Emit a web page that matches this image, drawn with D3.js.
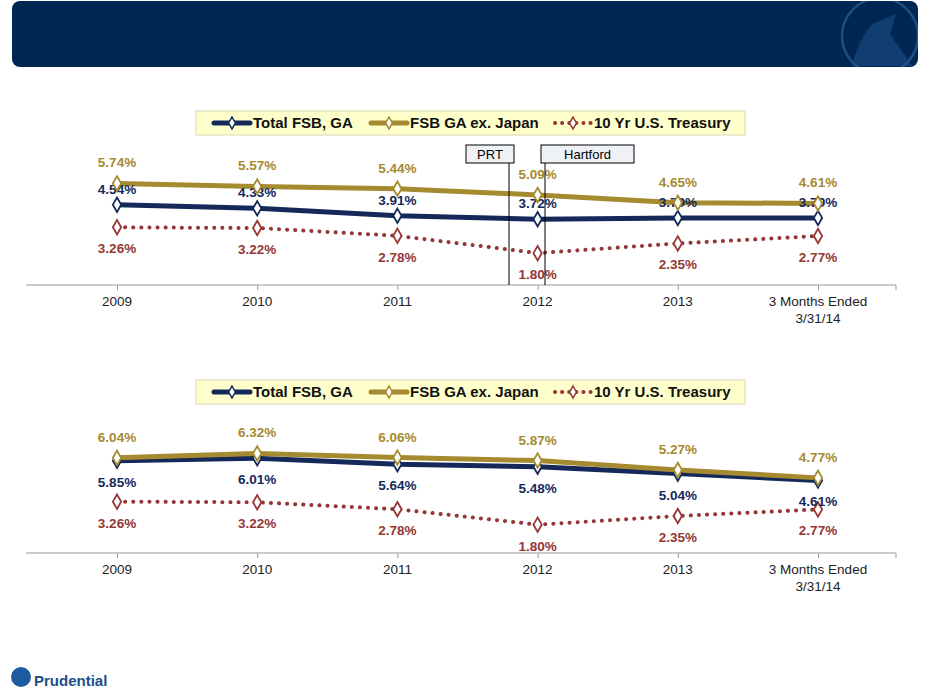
<!DOCTYPE html>
<html><head><meta charset="utf-8">
<script src="https://cdn.jsdelivr.net/npm/d3@7"></script>
<style>body{margin:0;background:#fff}svg text{font-family:"Liberation Sans",Arial,sans-serif}</style>
</head><body>
<svg id="c" width="931" height="693"></svg>
<script>
var categories = ["2009","2010","2011","2012","2013","3 Months Ended|3/31/14"];
var topTotal = [4.54,4.33,3.91,3.72,3.79,3.79];
var topExJapan = [5.74,5.57,5.44,5.09,4.65,4.61];
var topTreasury = [3.26,3.22,2.78,1.80,2.35,2.77];
var botTotal = [5.85,6.01,5.64,5.48,5.04,4.61];
var botExJapan = [6.04,6.32,6.06,5.87,5.27,4.77];
var botTreasury = [3.26,3.22,2.78,1.80,2.35,2.77];
var seriesNames = ["Total FSB, GA","FSB GA ex. Japan","10 Yr U.S. Treasury"];

var NAVY="#14295a", GOLD="#a58a30", RED="#953735";
var svg = d3.select("#c");

// header band
svg.append("clipPath").attr("id","hc").append("rect").attr("x",12).attr("y",1).attr("width",906).attr("height",66).attr("rx",8);
svg.append("rect").attr("x",12).attr("y",1).attr("width",906).attr("height",66).attr("rx",8).attr("fill","#002654");
var lg0 = svg.append("g").attr("clip-path","url(#hc)");
lg0.append("circle").attr("cx",880).attr("cy",36).attr("r",38).attr("fill","none").attr("stroke","#1d4f84").attr("stroke-width",2.5);
lg0.append("path").attr("d","M852,66 Q858,40 872,24 L896,14 L890,34 Q900,48 912,66 Z").attr("fill","#1d4f84").attr("opacity",0.6);

var x = d3.scalePoint().domain(categories).range([117,818]);

function chart(total, exj, tre, y0, pxPerUnit, legendY, navyOff){
    var y = d3.scaleLinear().domain([0,1]).range([y0, y0-pxPerUnit]);
    var g = svg.append("g");
    g.append("line").attr("x1",26).attr("x2",896).attr("y1",y0).attr("y2",y0).attr("stroke","#999");
    var ax = d3.axisBottom(x).tickSize(5).tickFormat("");
    g.append("g").attr("transform","translate(0,"+y0+")").call(ax).call(s=>{s.select(".domain").remove();s.selectAll("line").attr("stroke","#999");});
    g.append("line").attr("x1",896).attr("x2",896).attr("y1",y0).attr("y2",y0+5).attr("stroke","#999");
    categories.forEach(function(c){
        var t = g.append("text").attr("x",x(c)).attr("y",y0+21).attr("text-anchor","middle").attr("font-size",13.5).attr("fill","#222");
        c.split("|").forEach(function(p,i){t.append("tspan").attr("x",x(c)).attr("dy",i?17:0).text(p);});
    });
    var line = d3.line().x((d,i)=>x(categories[i])).y(d=>y(d));
    var specs = [
        {d:tre,c:RED,dash:"0.1 8",w:4,off:26},
        {d:total,c:NAVY,dash:null,w:5,off:navyOff},
        {d:exj,c:GOLD,dash:null,w:5,off:-16}
    ];
    specs.forEach(function(s){
        g.append("path").attr("d",line(s.d)).attr("fill","none").attr("stroke",s.c).attr("stroke-width",s.w)
            .attr("stroke-dasharray",s.dash).attr("stroke-linecap","round");
    });
    specs.forEach(function(s){
        g.selectAll(null).data(s.d).enter().append("path")
            .attr("transform",(d,i)=>"translate("+x(categories[i])+","+y(d)+")")
            .attr("d",d3.symbol(d3.symbolDiamond,60)).attr("fill","#fff").attr("stroke",s.c).attr("stroke-width",1.8);
        g.selectAll(null).data(s.d).enter().append("text")
            .attr("x",(d,i)=>x(categories[i])).attr("y",d=>y(d)+s.off)
            .attr("text-anchor","middle").attr("font-size",13.5).attr("font-weight","bold").attr("fill",s.c)
            .text(d=>d.toFixed(2)+"%");
    });
    // legend
    var lg = g.append("g");
    lg.append("rect").attr("x",196).attr("y",legendY).attr("width",549).attr("height",24).attr("fill","#ffffcc").attr("stroke","#d8d8b0");
    var items=[{c:NAVY,x:214,dash:null},{c:GOLD,x:371,dash:null},{c:RED,x:555,dash:"0.1 7"}];
    items.forEach(function(it,i){
        var ly=legendY+12;
        lg.append("line").attr("x1",it.x).attr("x2",it.x+36).attr("y1",ly).attr("y2",ly).attr("stroke",it.c).attr("stroke-width",it.dash?4:5).attr("stroke-dasharray",it.dash).attr("stroke-linecap","round");
        lg.append("path").attr("transform","translate("+(it.x+18)+","+ly+")").attr("d",d3.symbol(d3.symbolDiamond,40)).attr("fill","#fff").attr("stroke",it.c).attr("stroke-width",1.5);
        lg.append("text").attr("x",it.x+39).attr("y",ly+5).attr("font-size",15).attr("font-weight","bold").attr("fill","#111").text(seriesNames[i]);
    });
    return y;
}

chart(topTotal, topExJapan, topTreasury, 285, 17.7, 111, -11);
chart(botTotal, botExJapan, botTreasury, 553, 15.75, 380, 26);

// PRT / Hartford markers
[{t:"PRT",x:466,w:48,lx:509},{t:"Hartford",x:541,w:93,lx:545}].forEach(function(m){
    svg.append("line").attr("x1",m.lx).attr("x2",m.lx).attr("y1",145).attr("y2",285).attr("stroke","#000");
    svg.append("rect").attr("x",m.x).attr("y",145).attr("width",m.w).attr("height",18).attr("fill","#eef2f6").attr("stroke","#000");
    svg.append("text").attr("x",m.x+m.w/2).attr("y",159).attr("text-anchor","middle").attr("font-size",13).attr("fill","#000").text(m.t);
});

// footer logo
svg.append("circle").attr("cx",21).attr("cy",677).attr("r",10).attr("fill","#1d5aa0");
svg.append("text").attr("x",34).attr("y",686).attr("font-family","Liberation Serif").attr("font-size",15).attr("font-weight","bold").attr("fill","#1d4f8a").text("Prudential");
</script>
</body></html>
